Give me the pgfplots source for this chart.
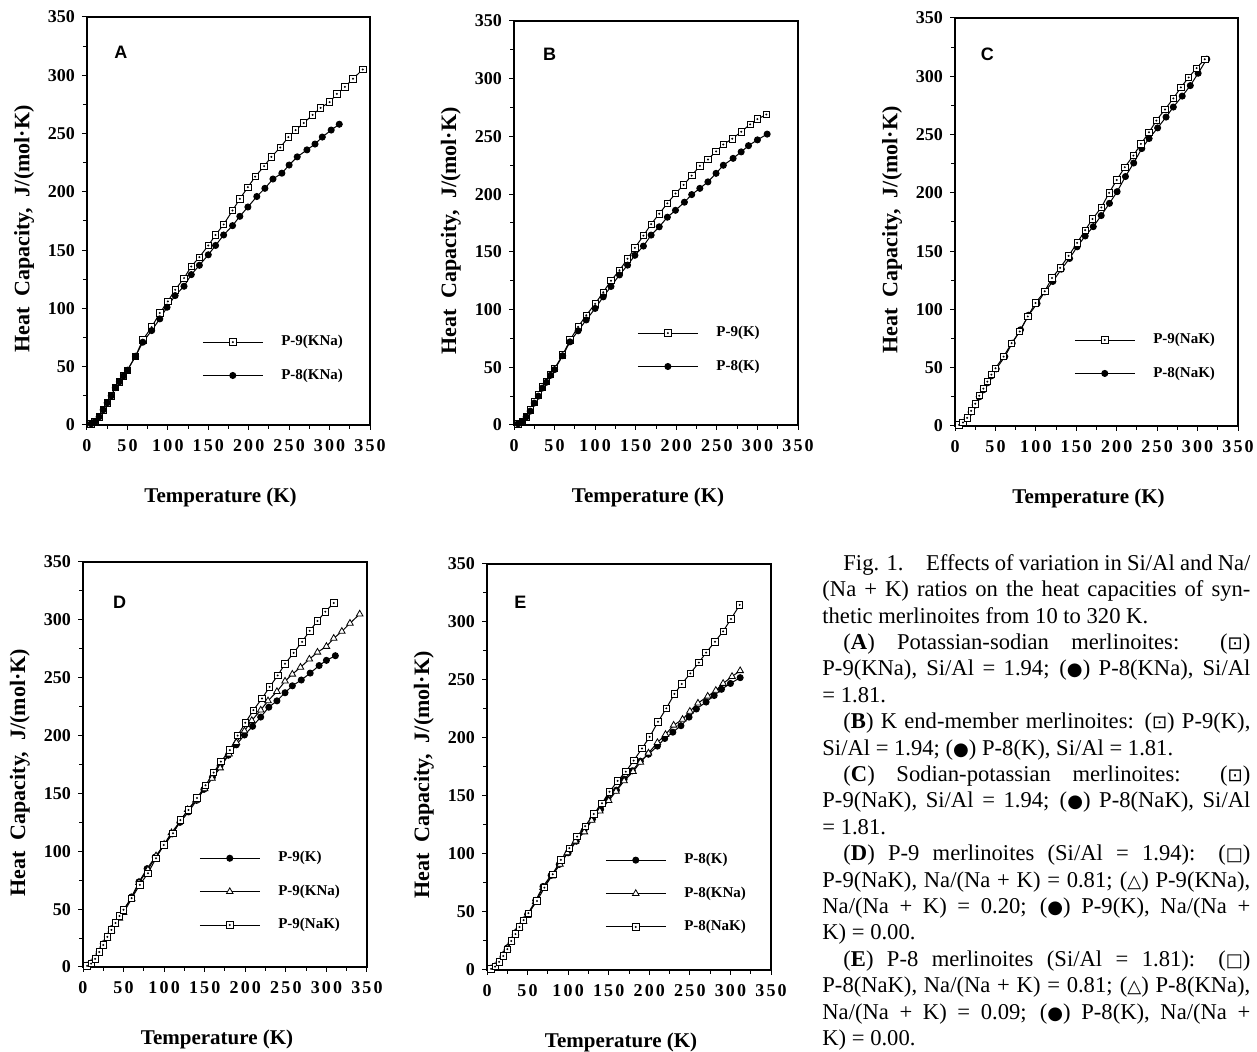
\documentclass[border=0pt]{standalone}
\usepackage{pgfplots}
\pgfplotsset{compat=1.18}
\usepackage{pgfplotstable}
\usepackage{fontspec}
\setmainfont{Liberation Serif}
\newfontfamily\panelfont{Liberation Sans}
\newfontfamily\xtickfont{Liberation Serif}[LetterSpace=12]
\newfontfamily\symfont{DejaVu Sans}[Scale=0.8]

% square with a dot in the middle
\pgfdeclareplotmark{sqdot}{%
  \pgfpathrectangle{\pgfqpoint{-\pgfplotmarksize}{-\pgfplotmarksize}}{\pgfqpoint{2\pgfplotmarksize}{2\pgfplotmarksize}}%
  \pgfusepathqfillstroke
  \begin{pgfscope}%
    \pgfsetfillcolor{black}%
    \pgfpathcircle{\pgfpointorigin}{0.35\pgfplotmarksize}%
    \pgfusepathqfill
  \end{pgfscope}}

% caption lines: justified (optional indent) / left-set
\newcommand\jline[2][0pt]{\hbox to 214pt{\spaceskip=0.25em plus 1fil minus 0.08em\relax\hskip #1#2}}
\newcommand\lline[1]{\hbox to 214pt{#1\hfil}}

% heat capacity, T in K, Cp in J/(mol K)
\pgfplotstableread{
T Cp
5 1
10 3
15 7
20 13
25 19
30 25
35 32
40 37
45 42
50 47
60 59
69 73
80 84
90 96
100 106
109 116
120 126
129 136
139 144
150 154
159 163
169 172
180 184
189 194
199 204
208 213
219 222
228 230
239 238
249 247
258 253
268 259
279 266
289 272
300 277
309 284
319 290
329 297
341 305
}\PnineKNa

\pgfplotstableread{
T Cp
5 1
10 3
15 7
20 13
25 19
30 25
35 32
40 37
45 42
50 47
60 59
69 71
80 81
90 91
99 101
109 111
120 119
129 129
139 137
150 146
159 154
169 163
180 171
189 179
199 187
210 196
220 203
230 211
241 216
250 223
260 230
272 236
282 241
291 247
302 253
312 258
}\PeightKNa

\pgfplotstableread{
T Cp
5 1
10 3
15 7
20 13
25 20
30 26
35 33
40 38
45 44
50 49
60 60.6
69 73.6
79 85
89 95
100 105
110 115
119.5 125
130 134
140 144
149 153.5
159.5 164
169 174
179 183
189 192
199 200.5
209 208
219 216
229 224.5
239 230
249 237
258 243
269 248
280 254
291 260.5
300 265
311 269
}\PnineK

\pgfplotstableread{
T Cp
5 1
10 3
15 7
20 12
25 19
30 25
35 32
40 37
45 43
50 48
60 60
69 72
79 81.6
89 91
100 101
110 111
119.5 120
130 130
140 138.5
149 147
159.5 155
169 164.5
179 171.7
189 180
199 186
210 193
219 199.6
229 205
239 210.6
249 218
258 225
270 231
280 236.6
289 242
300 247
312 252
}\PeightK

\pgfplotstableread{
T Cp
5 1
10 3
15 7
20 13
25 19
30 26
35 32
40 38
45 44
50 49.5
60 59.5
70 71
80 81
90 94
99.5 105.5
111 115.6
120 127
130 135.7
140.5 146
151 157
161 168
170 177.5
181 187.5
190.6 200
200 211
210 222
220.6 232
230 242
240 252
249 262
259.6 271.5
270 281
279.4 290.5
289 299
298.7 307
309 314.6
}\PnineNaK

\pgfplotstableread{
T Cp
5 1
10 3
15 7
20 12
25 18
30 25
35 31
40 37
45 43
51 49
61.6 59.5
70.7 71
81 82.5
91 95
101.5 105
111 115
121 124
131.5 134.5
141.7 143.7
151 153.7
161 163
171 171
180.8 180.5
191 191
200.5 201
210.8 214
221 225.6
231 238
240 246.6
250.6 255.7
261 265
270 273.6
281 283
291 292
300.7 302.6
311.4 314.7
}\PeightNaK

\pgfplotsset{
  panel/.style={
    scale only axis, anchor=south west,
    xmin=0, xmax=350, ymin=0, ymax=350,
    xtick={0,50,...,350}, ytick={0,50,...,350},
    minor x tick num=1, minor y tick num=1,
    tick pos=left, tick align=outside,
    major tick length=2.5pt, minor tick length=2pt,
    axis line style={line width=0.6pt},
    every tick/.style={black, line width=0.5pt},
    /pgf/number format/assume math mode=true,
    xticklabel style={font=\xtickfont\bfseries\fontsize{9}{10}\selectfont, yshift=-1pt},
    yticklabel style={font=\bfseries\fontsize{9}{10}\selectfont},
    xlabel={Temperature (K)},
    ylabel={Heat\ \ Capacity,\ \ J/(mol·K)},
    xlabel style={at={(rel axis cs:0.472,0)}, yshift=-36pt, anchor=center,
      font=\bfseries\fontsize{10.5}{12}\selectfont},
    ylabel style={at={(rel axis cs:-0.222,0.48)}, anchor=center, rotate=0,
      font=\bfseries\fontsize{11}{12}\selectfont},
    legend style={draw=none, fill=none, anchor=north west, inner sep=0pt,
      font=\bfseries\fontsize{7.5}{9}\selectfont, row sep=8pt,
      nodes={inner ysep=1pt, inner xsep=9pt}},
    legend cell align=left,
    legend image code/.code={\draw[mark repeat=2,mark phase=2,##1]
      plot coordinates {(0pt,0pt) (15pt,0pt) (30pt,0pt)};},
  },
  sqline/.style={black, line width=0.5pt, mark=sqdot, mark size=1.6pt,
    mark options={solid, fill=white, line width=0.4pt}},
  cirline/.style={black, line width=0.5pt, mark=*, mark size=1.5pt,
    mark options={solid, fill=black}},
  triline/.style={black, line width=0.5pt, mark=triangle*, mark size=1.9pt,
    mark options={solid, fill=white, line width=0.4pt}},
}
\tikzset{letter/.style={font=\panelfont\bfseries\fontsize{9}{10}\selectfont}}

\begin{document}
\begin{tikzpicture}
\path[use as bounding box] (0pt,0pt) rectangle (628.5pt,526pt);

% A
\begin{axis}[panel, at={(43.5pt,313.5pt)}, width=141.5pt, height=204pt,
  legend style={at={(rel axis cs:0.406,0.2255)}}]
  \addplot[sqline] table {\PnineKNa}; \addlegendentry{P-9(KNa)}
  \addplot[cirline] table {\PeightKNa}; \addlegendentry{P-8(KNa)}
  \node[letter] at (axis cs:42,320) {A};
\end{axis}

% B
\begin{axis}[panel, at={(257pt,313.5pt)}, width=142pt, height=202pt,
  legend style={at={(rel axis cs:0.433,0.25)}}]
  \addplot[sqline] table {\PnineK}; \addlegendentry{P-9(K)}
  \addplot[cirline] table {\PeightK}; \addlegendentry{P-8(K)}
  \node[letter] at (axis cs:44,321) {B};
\end{axis}

% C
\begin{axis}[panel, at={(477.5pt,313pt)}, width=141.5pt, height=204pt,
  legend style={at={(rel axis cs:0.42,0.233)}}]
  \addlegendimage{sqline} \addlegendentry{P-9(NaK)}
  \addlegendimage{cirline} \addlegendentry{P-8(NaK)}
  \addplot[cirline, forget plot] table {\PeightNaK};
  \addplot[sqline, forget plot] table {\PnineNaK};
  \node[letter] at (axis cs:40,319) {C};
\end{axis}

% D
\begin{axis}[panel, at={(41.5pt,42.5pt)}, width=142pt, height=202.5pt,
  legend style={at={(rel axis cs:0.408,0.291)}}]
  \addplot[cirline] table {\PnineK}; \addlegendentry{P-9(K)}
  \addplot[triline] table {\PnineKNa}; \addlegendentry{P-9(KNa)}
  \addplot[sqline] table {\PnineNaK}; \addlegendentry{P-9(NaK)}
  \node[letter] at (axis cs:45,315) {D};
\end{axis}

% E
\begin{axis}[panel, at={(243.5pt,41pt)}, width=142pt, height=203pt,
  legend style={at={(rel axis cs:0.415,0.293)}}]
  \addplot[cirline] table {\PeightK}; \addlegendentry{P-8(K)}
  \addplot[triline] table {\PeightKNa}; \addlegendentry{P-8(KNa)}
  \addplot[sqline] table {\PeightNaK}; \addlegendentry{P-8(NaK)}
  \node[letter] at (axis cs:41,317) {E};
\end{axis}

% caption
\node[anchor=north west, inner sep=0pt, font=\fontsize{11.3}{13.2}\selectfont]
  at (411pt,249pt) {\vbox{%
\jline[10.5pt]{Fig. 1.\quad Effects of variation in Si/Al and Na/}
\jline{(Na + K) ratios on the heat capacities of syn-}
\lline{thetic merlinoites from 10 to 320 K.}
\jline[10.5pt]{(\textbf{A}) Potassian-sodian merlinoites: ({\symfont ⊡})}
\jline{P-9(KNa), Si/Al = 1.94; ({\symfont ●}) P-8(KNa), Si/Al}
\lline{= 1.81.}
\jline[10.5pt]{(\textbf{B}) K end-member merlinoites: ({\symfont ⊡}) P-9(K),}
\lline{Si/Al = 1.94; ({\symfont ●}) P-8(K), Si/Al = 1.81.}
\jline[10.5pt]{(\textbf{C}) Sodian-potassian merlinoites: ({\symfont ⊡})}
\jline{P-9(NaK), Si/Al = 1.94; ({\symfont ●}) P-8(NaK), Si/Al}
\lline{= 1.81.}
\jline[10.5pt]{(\textbf{D}) P-9 merlinoites (Si/Al = 1.94): ({\symfont □})}
\jline{P-9(NaK), Na/(Na + K) = 0.81; ({\symfont △}) P-9(KNa),}
\jline{Na/(Na + K) = 0.20; ({\symfont ●}) P-9(K), Na/(Na +}
\lline{K) = 0.00.}
\jline[10.5pt]{(\textbf{E}) P-8 merlinoites (Si/Al = 1.81): ({\symfont □})}
\jline{P-8(NaK), Na/(Na + K) = 0.81; ({\symfont △}) P-8(KNa),}
\jline{Na/(Na + K) = 0.09; ({\symfont ●}) P-8(K), Na/(Na +}
\lline{K) = 0.00.}}};
\end{tikzpicture}
\end{document}
